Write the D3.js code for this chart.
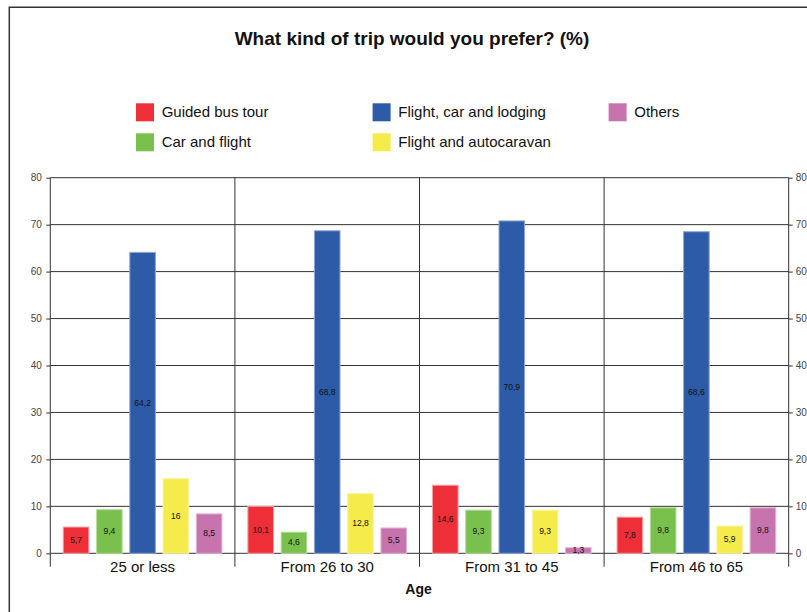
<!DOCTYPE html>
<html>
<head>
<meta charset="utf-8">
<script src="https://cdn.jsdelivr.net/npm/d3@7"></script>
<style>
  html, body { margin: 0; padding: 0; background: #fff; }
  svg { display: block; font-family: "Liberation Sans", Arial, sans-serif; }
</style>
</head>
<body>
<svg id="chart" width="807" height="612"></svg>
<script>
// Survey data: preferred trip type by age group (%)
const ageGroups = ["25 or less", "From 26 to 30", "From 31 to 45", "From 46 to 65"];
const tripTypes = ["Guided bus tour", "Car and flight", "Flight, car and lodging", "Flight and autocaravan", "Others"];
const guidedBusTour = [5.7, 10.1, 14.6, 7.8];
const carAndFlight = [9.4, 4.6, 9.3, 9.8];
const flightCarLodging = [64.2, 68.8, 70.9, 68.6];
const flightAutocaravan = [16, 12.8, 9.3, 5.9];
const others = [8.5, 5.5, 1.3, 9.8];
const yTicks = [0, 10, 20, 30, 40, 50, 60, 70, 80];

const seriesValues = [guidedBusTour, carAndFlight, flightCarLodging, flightAutocaravan, others];
const fillColors = ["#ee2f37", "#79c04c", "#2d5ba8", "#f5eb4b", "#c673ae"];
const edgeColors = ["#f6a0a4", "#b5dd9a", "#8ea6d2", "#faf4a6", "#e2b5d4"];

const svg = d3.select("#chart");

// Plot frame geometry
const plotLeft = 50.3, plotRight = 788.7, plotTop = 177.7, plotBottom = 553.3;
const axisFoot = 566.7;

const y = d3.scaleLinear().domain([0, 80]).range([plotBottom, plotTop]);
const x0 = d3.scaleBand().domain(ageGroups).range([plotLeft, plotRight]).padding(0);
const x1 = d3.scaleBand().domain(tripTypes).range([0, x0.bandwidth()])
  .paddingInner(0.2).paddingOuter(0.375);
const color = d3.scaleOrdinal().domain(tripTypes).range(fillColors);
const edge = d3.scaleOrdinal().domain(tripTypes).range(edgeColors);

// Outer border (top and left edges)
svg.append("path")
  .attr("d", `M9.3,612 V7.3 H807`)
  .attr("fill", "none")
  .attr("stroke", "#333")
  .attr("stroke-width", 1.5);

// Title
svg.append("text")
  .attr("x", 412).attr("y", 45)
  .attr("text-anchor", "middle")
  .attr("font-size", 19).attr("font-weight", "bold")
  .attr("fill", "#111")
  .text("What kind of trip would you prefer? (%)");

// Legend: two rows, filled column by column
const legendCols = [136, 372.6, 608.6];
const legendRows = [103.3, 133.3];
const legend = svg.append("g").selectAll("g")
  .data(tripTypes)
  .join("g")
  .attr("transform", (d, i) => `translate(${legendCols[Math.floor(i / 2)]},${legendRows[i % 2]})`);
legend.append("rect")
  .attr("width", 18).attr("height", 18)
  .attr("fill", d => color(d));
legend.append("text")
  .attr("x", 25.7).attr("y", 14)
  .attr("font-size", 15).attr("fill", "#111")
  .text(d => d);

// Horizontal gridlines
svg.append("g").selectAll("line")
  .data(yTicks)
  .join("line")
  .attr("x1", plotLeft).attr("x2", plotRight)
  .attr("y1", d => y(d)).attr("y2", d => y(d))
  .attr("stroke", "#333").attr("stroke-width", 1);

// Vertical lines: axes and group separators
const separators = [plotLeft, ...ageGroups.slice(1).map(g => x0(g)), plotRight];
svg.append("g").selectAll("line")
  .data(separators)
  .join("line")
  .attr("x1", d => d).attr("x2", d => d)
  .attr("y1", plotTop).attr("y2", axisFoot)
  .attr("stroke", "#333").attr("stroke-width", 1);

// Left and right value axes
const leftAxis = svg.append("g")
  .attr("transform", `translate(${plotLeft},0)`)
  .call(d3.axisLeft(y).tickValues(yTicks).tickSize(4).tickPadding(4.5));
const rightAxis = svg.append("g")
  .attr("transform", `translate(${plotRight},0)`)
  .call(d3.axisRight(y).tickValues(yTicks).tickSize(4).tickPadding(3));
[leftAxis, rightAxis].forEach(a => {
  a.select(".domain").remove();
  a.selectAll(".tick line").attr("stroke", "#333");
  a.selectAll(".tick text")
    .attr("font-family", "Liberation Sans, Arial, sans-serif")
    .attr("font-size", 10).attr("fill", "#444");
});

// Category axis labels
const catAxis = svg.append("g")
  .attr("transform", `translate(0,${plotBottom})`)
  .call(d3.axisBottom(x0).tickSize(0).tickPadding(8));
catAxis.select(".domain").remove();
catAxis.selectAll(".tick text")
  .attr("font-family", "Liberation Sans, Arial, sans-serif")
  .attr("font-size", 15).attr("fill", "#111");

// Axis title
svg.append("text")
  .attr("x", (plotLeft + plotRight) / 2 - 1).attr("y", 594)
  .attr("text-anchor", "middle")
  .attr("font-size", 14).attr("font-weight", "bold")
  .attr("fill", "#111")
  .text("Age");

// Bars
const rows = ageGroups.map((g, gi) => ({
  group: g,
  items: tripTypes.map((t, ti) => ({ type: t, value: seriesValues[ti][gi] }))
}));

const groups = svg.append("g").selectAll("g")
  .data(rows)
  .join("g")
  .attr("transform", d => `translate(${x0(d.group)},0)`);

groups.selectAll("rect")
  .data(d => d.items)
  .join("rect")
  .attr("x", d => x1(d.type) + 0.5)
  .attr("width", x1.bandwidth() - 1)
  .attr("y", d => y(d.value) + 0.5)
  .attr("height", d => Math.max(0, y(0) - y(d.value) - 0.5))
  .attr("fill", d => color(d.type))
  .attr("stroke", d => edge(d.type))
  .attr("stroke-width", 1);

// Value labels centred inside each bar
const fmt = v => String(v).replace(".", ",");
groups.selectAll("text.val")
  .data(d => d.items)
  .join("text")
  .attr("class", "val")
  .attr("x", d => x1(d.type) + x1.bandwidth() / 2)
  .attr("y", d => (y(d.value) + y(0)) / 2)
  .attr("dy", "0.35em")
  .attr("text-anchor", "middle")
  .attr("font-size", 8.5).attr("fill", "#111")
  .text(d => fmt(d.value));
</script>
</body>
</html>
